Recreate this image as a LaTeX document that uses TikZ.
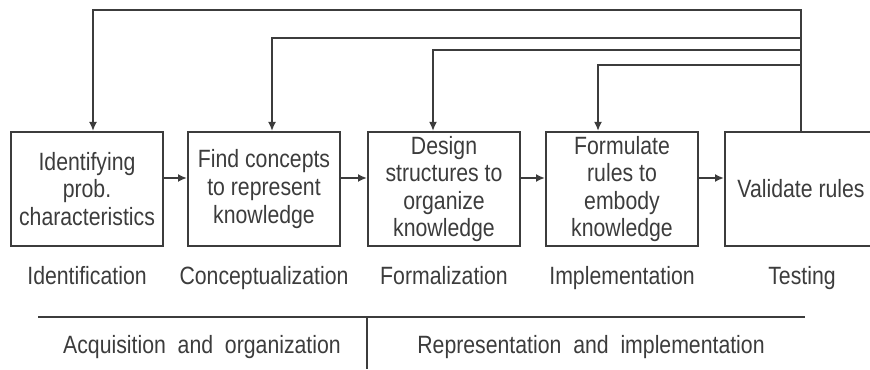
\documentclass[tikz,border=0pt]{standalone}
\usepackage{fontspec}
\setmainfont{Liberation Sans}[FakeStretch=0.85]
\usetikzlibrary{arrows.meta}
\definecolor{ink}{HTML}{3C3C3C}
\tikzset{
	box/.style={draw=ink, line width=1pt, minimum width=76pt, minimum height=57pt, align=center, inner sep=2pt},
	lbl/.style={anchor=base},
	link/.style={draw=ink, line width=1pt, -{Latex[length=4.5pt,width=4pt]}},
	rule/.style={draw=ink, line width=1pt},
}
\begin{document}
\begin{tikzpicture}[x=0.5pt, y=0.5pt, font=\fontsize{12.5}{13.8}\selectfont, text=ink]
		\useasboundingbox (0,0) rectangle (870,369);
		% stages
		\node[box] (ident) at (87,180) {Identifying\\prob.\\characteristics};
		\node[box] (concept) at (264,180) {Find concepts\\to represent\\knowledge};
		\node[box] (formal) at (444,180) {Design\\structures to\\organize\\knowledge};
		\node[box] (implem) at (622,180) {Formulate\\rules to\\embody\\knowledge};
		\node[box] (testing) at (801,180) {Validate rules};
		\foreach \a/\b in {ident/concept, concept/formal, formal/implem, implem/testing}
			\draw[link] ([yshift=5.5pt]\a.east) -- ([yshift=5.5pt]\b.west);
		% feedback
		\coordinate (fb1) at (801,359);
		\coordinate (fb2) at (801,331);
		\coordinate (fb3) at (801,319);
		\coordinate (fb4) at (801,304);
		\draw[link] (testing.north) -- (fb1) -| ([xshift=3pt]ident.north);
		\draw[link] (fb2) -| ([xshift=4pt]concept.north);
		\draw[link] (fb3) -| ([xshift=-5.5pt]formal.north);
		\draw[link] (fb4) -| ([xshift=-12pt]implem.north);
		% stage names
		\node[lbl] (identlbl) at (87,85) {Identification};
		\node[lbl] (conceptlbl) at (264,85) {Conceptualization};
		\node[lbl] (formallbl) at (444,85) {Formalization};
		\node[lbl] (implemlbl) at (622,85) {Implementation};
		\node[lbl] (testinglbl) at (802,85) {Testing};
		% phases
		\draw[rule] (38,52) -- (805,52) (367,52) -- (367,0);
		\node[lbl] (acq) at (202,16) {Acquisition\ \ and\ \ organization};
		\node[lbl] (rep) at (591,16) {Representation\ \ and\ \ implementation};
\end{tikzpicture}
\end{document}
